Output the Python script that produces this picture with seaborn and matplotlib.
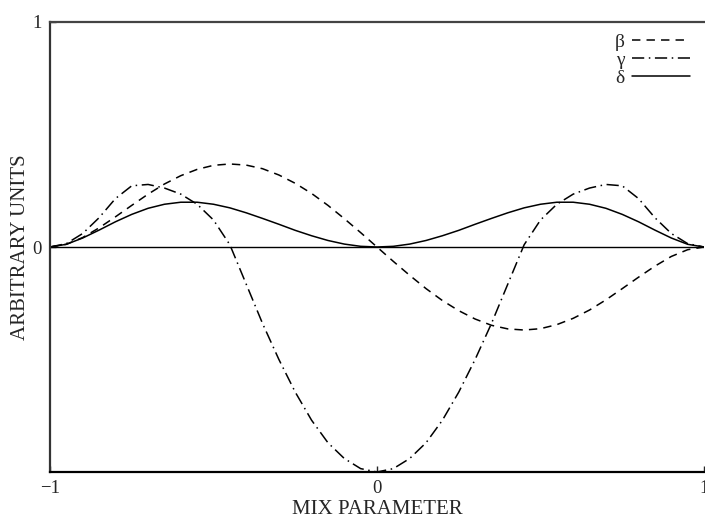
import matplotlib
matplotlib.use("Agg")
import matplotlib.pyplot as plt
import seaborn as sns
import pandas as pd

# Mix parameter grid and curve values
mix = [-1.00, -0.95, -0.90, -0.85, -0.80, -0.75, -0.70, -0.65, -0.60, -0.55,
       -0.50, -0.45, -0.40, -0.35, -0.30, -0.25, -0.20, -0.15, -0.10, -0.05,
       0.00, 0.05, 0.10, 0.15, 0.20, 0.25, 0.30, 0.35, 0.40, 0.45,
       0.50, 0.55, 0.60, 0.65, 0.70, 0.75, 0.80, 0.85, 0.90, 0.95, 1.00]

beta = [0.000, 0.012, 0.042, 0.085, 0.134, 0.185, 0.235, 0.280, 0.317, 0.345,
        0.363, 0.369, 0.364, 0.348, 0.320, 0.283, 0.238, 0.185, 0.126, 0.064,
        0.000, -0.064, -0.126, -0.185, -0.238, -0.283, -0.320, -0.348, -0.364, -0.369,
        -0.363, -0.345, -0.317, -0.280, -0.235, -0.185, -0.134, -0.085, -0.042, -0.012, 0.000]

gamma = [0.000, 0.015, 0.060, 0.130, 0.215, 0.272, 0.278, 0.262, 0.235, 0.190,
         0.120, 0.010, -0.165, -0.340, -0.500, -0.645, -0.770, -0.870, -0.940, -0.985,
         -1.000, -0.985, -0.940, -0.870, -0.770, -0.645, -0.500, -0.340, -0.165, 0.010,
         0.120, 0.190, 0.235, 0.262, 0.278, 0.272, 0.215, 0.130, 0.060, 0.015, 0.000]

delta = [0.000, 0.012, 0.040, 0.075, 0.112, 0.145, 0.172, 0.190, 0.199, 0.199,
         0.190, 0.174, 0.152, 0.127, 0.101, 0.074, 0.050, 0.029, 0.013, 0.003,
         0.000, 0.003, 0.013, 0.029, 0.050, 0.074, 0.101, 0.127, 0.152, 0.174,
         0.190, 0.199, 0.199, 0.190, 0.172, 0.145, 0.112, 0.075, 0.040, 0.012, 0.000]

series_names = ["β", "γ", "δ"]
x_ticks = [-1, 0, 1]
x_tick_labels = ["−1", "0", "1"]
y_ticks = [0, 1]
y_tick_labels = ["0", "1"]

sns.set_style("ticks")
plt.rcParams["font.family"] = ["Liberation Serif", "DejaVu Serif"]

fig = plt.figure(figsize=(7.05, 5.20), dpi=100)
ax = fig.add_axes([50 / 705, 48 / 520, 654 / 705, 450 / 520])

df = pd.DataFrame({"mix": mix, "β": beta, "γ": gamma, "δ": delta})
styles = {
    "β": (0, (5.5, 4)),
    "γ": (0, (8, 3, 1, 3)),
    "δ": "-",
}
for name in series_names:
    sns.lineplot(data=df, x="mix", y=name, ax=ax, color="black", lw=1.1,
                 linestyle=styles[name], label=name, sort=False)

ax.axhline(0, color="black", lw=1.0, zorder=1)

ax.set_xlim(-1, 1)
ax.set_ylim(-1, 1)
ax.set_xticks(x_ticks)
ax.set_xticklabels(x_tick_labels, fontsize=13.5)
ax.set_yticks(y_ticks)
ax.set_yticklabels(y_tick_labels, fontsize=13.5)
ax.tick_params(direction="in", length=4, width=1, pad=6)

ax.set_xlabel("MIX PARAMETER", fontsize=15, labelpad=2)
ax.set_ylabel("ARBITRARY UNITS", fontsize=15, labelpad=2)

for side in ["left", "bottom", "top"]:
    ax.spines[side].set_linewidth(1.6)
    ax.spines[side].set_color("black")
ax.spines["top"].set_color("#444444")
ax.spines["left"].set_color("#333333")
ax.spines["right"].set_visible(False)

leg = ax.legend(loc="upper right", bbox_to_anchor=(0.997, 1.0), frameon=False,
                markerfirst=False, handlelength=3.0, handletextpad=0.4,
                labelspacing=0.0, fontsize=14, borderaxespad=0.2)

fig.savefig("out.png", dpi=100)
